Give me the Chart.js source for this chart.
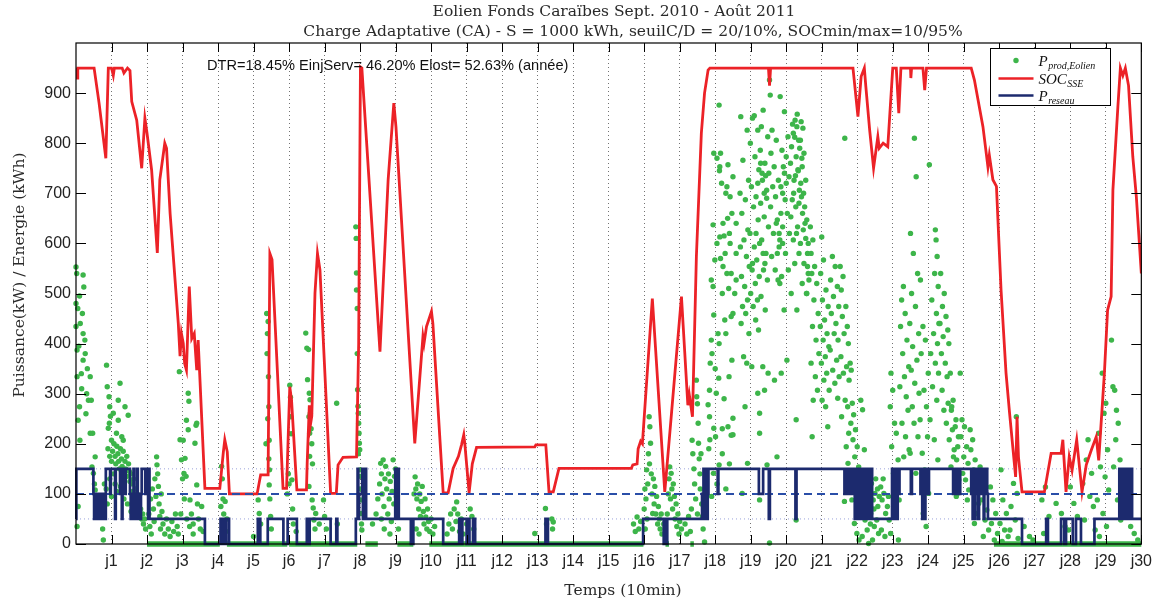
<!DOCTYPE html>
<html lang="fr">
<head>
<meta charset="UTF-8">
<title>Eolien Fonds Caraïbes - Charge Adaptative</title>
<script src="https://cdn.jsdelivr.net/npm/chart.js"></script>
<style>
  body { margin: 0; background: #fff; }
  #wrap { width: 1160px; height: 603px; }
</style>
</head>
<body>
<div id="wrap"><canvas id="chart" width="1160" height="603"></canvas></div>
<script>
// texts
const titleLines = [
  "Eolien Fonds Caraïbes Sept. 2010 - Août 2011",
  "Charge Adaptative (CA) - S = 1000 kWh, seuilC/D = 20/10%, SOCmin/max=10/95%"
];
const yTitle = "Puissance(kW) / Energie (kWh)";
const xTitle = "Temps (10min)";
const statsText = "DTR=18.45% EinjServ= 46.20% Elost= 52.63% (année)";

// axes (x in days, 144 samples of 10 min per day)
const dayTicks = [1,2,3,4,5,6,7,8,9,10,11,12,13,14,15,16,17,18,19,20,21,22,23,24,25,26,27,28,29,30];
const yTicks = [0,100,200,300,400,500,600,700,800,900];
const serviceLevel = 100;          // dashed line
const powerSteps = [50, 150];      // dotted reference lines

// SOC_SSE [day, kWh]
const socPoints = [
  [0,950],[0.03,930],[0.05,950],[0.51,950],[0.65,880],[0.84,770],[0.91,950],[1.0,950],[1.05,935],[1.08,950],
  [1.3,950],[1.35,940],[1.45,950],[1.52,945],[1.57,883],[1.71,846],[1.85,750],[1.94,850],[2.0,820],[2.13,746],
  [2.29,581],[2.36,727],[2.5,800],[2.55,790],[2.65,660],[2.88,441],[2.93,375],[2.97,420],[3.02,401],[3.06,360],
  [3.11,347],[3.19,514],[3.26,410],[3.33,420],[3.4,347],[3.44,407],[3.63,111],[4.05,111],[4.15,184],[4.19,208],
  [4.26,184],[4.32,100],[5.1,100],[5.2,138],[5.41,138],[5.46,580],[5.52,568],[5.83,111],[5.93,111],[6.02,314],
  [6.07,287],[6.22,108],[6.49,108],[6.51,161],[6.57,277],[6.6,237],[6.64,255],[6.73,501],[6.8,580],[6.87,547],
  [7.17,101],[7.33,101],[7.38,158],[7.52,173],[7.9,174],[7.96,400],[8.01,952],[8.05,950],[8.18,806],[8.56,384],
  [8.79,727],[8.95,880],[9.01,833],[9.54,201],[9.77,414],[9.8,400],[9.87,434],[10.01,464],[10.05,440],[10.34,102],
  [10.48,102],[10.62,151],[10.77,175],[10.86,199],[10.92,218],[10.95,200],[11.07,102],[11.16,160],[11.28,193],[12.92,194],
  [12.95,198],[13.23,198],[13.32,104],[13.44,104],[13.6,151],[15.64,151],[15.68,158],[15.8,160],[15.83,190],[15.9,205],
  [15.95,200],[16.23,490],[16.58,104],[16.77,261],[17.05,494],[17.23,277],[17.27,298],[17.36,254],[17.47,573],[17.61,820],
  [17.7,900],[17.8,946],[17.85,950],[19.5,950],[19.53,915],[19.56,950],[21.88,950],[22.02,853],[22.11,933],[22.2,950],
  [22.24,915],[22.35,826],[22.46,750],[22.58,813],[22.62,790],[22.73,800],[22.86,793],[23.0,950],[23.1,950],[23.17,860],
  [23.23,950],[23.5,950],[23.51,930],[23.53,950],[23.85,950],[23.9,906],[23.95,950],[25.21,950],[25.3,926],[25.54,833],
  [25.68,753],[25.72,776],[25.82,727],[25.92,714],[26.05,507],[26.19,341],[26.29,261],[26.46,134],[26.5,254],[26.54,174],
  [26.64,104],[27.27,104],[27.46,181],[27.74,181],[27.79,208],[27.88,104],[27.97,174],[28.05,147],[28.18,208],[28.33,104],
  [28.45,158],[28.59,187],[28.73,214],[28.8,167],[28.96,341],[29.05,467],[29.15,494],[29.2,707],[29.34,873],[29.41,950],
  [29.48,935],[29.55,950],[29.64,915],[29.76,773],[29.86,693],[30.0,540]
];

// P_reseau [day from, kW] (stairs)
const gridPoints = [
  [0,50],[0.01,150],[0.49,100],[0.51,50],[0.54,100],[0.57,50],[0.6,100],[0.63,50],[0.66,100],[0.69,50],
  [0.72,100],[0.75,50],[0.78,100],[0.81,50],[0.84,150],[0.96,100],[0.98,150],[1.1,50],[1.12,150],[1.24,100],
  [1.26,150],[1.29,50],[1.31,150],[1.38,100],[1.4,150],[1.52,100],[1.54,50],[1.57,100],[1.6,50],[1.62,150],
  [1.64,100],[1.67,50],[1.7,100],[1.72,150],[1.74,50],[1.77,100],[1.8,50],[1.83,100],[1.85,150],[1.95,100],
  [1.97,150],[2.03,50],[2.05,150],[2.07,50],[3.63,0],[4.07,50],[4.09,0],[4.11,50],[4.13,0],[4.15,50],
  [4.17,0],[4.19,50],[4.21,0],[4.23,50],[4.31,0],[5.12,50],[5.14,0],[5.16,50],[5.19,0],[5.4,50],
  [5.84,0],[5.96,50],[6.22,0],[6.5,50],[6.52,0],[6.54,50],[6.56,0],[6.58,50],[7.17,0],[7.33,50],
  [7.36,0],[7.88,50],[7.93,150],[7.95,50],[7.97,100],[8.06,150],[8.08,50],[8.1,150],[8.12,100],[8.14,150],
  [8.17,50],[8.99,150],[9.01,100],[9.03,150],[9.05,50],[9.07,150],[9.09,50],[9.43,0],[9.5,50],[10.34,0],
  [10.79,50],[10.81,0],[10.83,50],[10.86,0],[10.88,50],[11.0,0],[11.03,50],[11.08,0],[11.18,50],[11.24,0],
  [13.22,50],[13.29,0],[15.97,50],[16.55,0],[16.57,50],[16.59,0],[16.61,50],[16.63,0],[16.65,50],[17.63,100],
  [17.65,50],[17.67,150],[17.69,50],[17.71,100],[17.73,50],[17.75,150],[17.77,50],[17.79,100],[17.81,150],[18.07,100],
  [18.09,150],[19.23,100],[19.35,150],[19.51,50],[19.54,150],[20.26,50],[20.29,150],[21.64,100],[21.66,150],[21.7,100],
  [21.72,150],[21.76,100],[21.78,150],[21.82,100],[21.85,150],[21.88,100],[21.9,150],[21.93,50],[21.95,150],[21.97,100],
  [21.99,50],[22.01,150],[22.03,50],[22.05,150],[22.07,100],[22.09,50],[22.11,150],[22.13,50],[22.15,150],[22.17,50],
  [22.19,150],[22.21,50],[22.23,150],[22.25,100],[22.27,50],[22.29,150],[22.31,50],[22.34,150],[22.37,50],[22.39,150],
  [22.42,50],[22.98,150],[23.0,50],[23.02,100],[23.04,150],[23.06,50],[23.08,150],[23.1,100],[23.12,50],[23.14,150],
  [23.16,100],[23.19,150],[23.51,100],[23.54,150],[23.78,100],[23.8,150],[23.83,50],[23.86,150],[23.88,100],[23.9,50],
  [23.92,150],[23.95,100],[23.97,150],[24.0,100],[24.02,150],[24.7,100],[24.72,150],[24.75,100],[24.78,150],[24.81,100],
  [24.84,150],[24.87,100],[24.9,150],[25.21,100],[25.23,150],[25.25,50],[25.27,150],[25.29,100],[25.31,50],[25.33,150],
  [25.36,100],[25.38,150],[25.41,50],[25.43,150],[25.46,100],[25.48,150],[25.51,100],[25.53,150],[25.56,50],[25.58,150],
  [25.61,100],[25.63,150],[25.66,100],[25.68,50],[26.64,0],[27.32,50],[27.37,0],[27.74,50],[27.83,0],[27.88,50],
  [28.07,0],[28.16,50],[28.3,0],[28.68,50],[29.38,150],[29.4,50],[29.42,100],[29.44,150],[29.46,50],[29.48,150],
  [29.5,100],[29.52,50],[29.54,150],[29.56,100],[29.58,150],[29.6,50],[29.62,150],[29.64,100],[29.66,50],[29.68,150],
  [29.7,100],[29.72,150],[29.74,50],[30,50]
];

// P_prod,Eolien [day, kW], samples above zero
const prodPoints = [
  // j0 - j1
  [0.0,553],[0.02,540],[0.2,537],[0.22,513],[0.0,480],[0.05,470],[0.0,434],[0.2,420],[0.25,407],[0.03,387],
  [0.2,367],[0.03,334],[0.15,340],[0.4,334],[0.3,300],[0.35,287],[0.43,287],[0.1,274],[0.06,247],[0.4,221],
  [0.47,221],[0.11,207],[0.54,174],[0.45,154],[0.49,141],[0.52,120],[0.54,108],[0.06,75],[0.03,35],[0.6,85],
  [0.7,55],[0.75,30],[0.77,8],[0.65,95],[0.12,440],[0.08,395],[0.16,310],[0.28,260],[0.32,350],[0.1,495],
  [0.18,460],[0.26,380],
  // j1 - j2
  [0.86,357],[0.88,314],[0.93,294],[0.95,274],[0.97,255],[0.94,241],[0.91,231],[1.0,207],[1.19,287],[1.24,321],
  [1.19,247],[1.29,214],[1.33,207],[1.38,274],[1.47,257],[1.14,221],[1.05,261],
  [0.9,190],[0.95,175],[1.0,165],[1.03,185],[1.07,200],[1.1,175],[1.12,160],[1.15,195],[1.18,180],[1.2,165],
  [1.22,150],[1.25,190],[1.28,170],[1.3,155],[1.33,185],[1.35,140],[1.38,165],[1.4,150],[1.43,175],[1.45,135],
  [1.48,160],[1.5,145],[1.52,125],[1.55,140],[1.58,120],[1.6,105],[1.62,130],[1.65,95],[1.68,110],[1.7,85],
  [1.72,100],[1.75,75],[1.78,90],[1.8,60],[1.82,70],[1.85,50],[1.88,60],[1.9,40],[1.93,50],[1.96,30],
  [1.1,120],[1.05,140],[1.15,105],[1.25,115],[1.35,90],[0.95,130],[0.85,110],[0.88,80],[0.8,120],[1.0,95],
  [1.45,80],[1.55,65],[1.65,55],
  // j2 - j4
  [2.05,60],[2.08,35],[2.1,90],[2.12,20],[2.15,110],[2.18,70],[2.2,45],[2.22,130],[2.25,95],[2.27,174],
  [2.28,158],[2.3,140],[2.32,115],[2.34,80],[2.36,55],[2.38,30],[2.4,100],[2.42,65],[2.45,40],[2.5,20],
  [2.55,50],[2.6,30],[2.65,15],[2.7,45],[2.75,25],[2.8,60],[2.85,35],[2.88,20],[2.91,344],[2.93,208],
  [2.97,168],[3.0,130],[3.02,207],[3.04,141],[3.07,171],[3.1,135],[3.11,247],[3.16,228],[3.16,301],[3.18,285],
  [3.21,88],[3.25,60],[3.3,40],[3.35,201],[3.38,237],[3.4,241],[3.4,118],[3.42,80],[3.45,50],[3.5,30],
  [3.54,75],[3.58,25],[3.05,90],[2.95,60],[3.12,50],[3.2,35],[3.3,20],
  [4.08,75],[4.1,155],[4.12,130],[4.14,90],[4.16,60],[4.18,40],[4.2,85],[4.22,25],[4.25,50],[5.0,15],
  // j5 - j8
  [5.13,88],[5.16,61],[5.2,40],[5.35,200],[5.37,460],[5.39,420],[5.41,444],[5.42,334],[5.43,274],[5.44,207],
  [5.45,148],[5.44,118],[5.46,90],[5.48,55],[5.5,30],[5.38,380],[5.4,250],[5.43,170],
  [5.95,100],[5.98,140],[6.0,120],[6.02,317],[6.04,293],[6.05,254],[6.06,220],[6.08,128],[6.1,70],[6.12,40],
  [6.2,25],[6.47,421],[6.5,391],[6.52,328],[6.55,388],[6.57,301],[6.59,288],[6.56,254],[6.58,221],[6.58,175],
  [6.6,261],[6.62,230],[6.64,200],[6.66,160],[6.56,115],[6.65,88],[6.68,72],[6.7,48],[6.73,30],[6.75,61],
  [6.85,40],[6.97,88],[7.0,55],[7.05,30],[7.34,281],[7.36,40],
  [7.88,633],[7.89,610],[7.9,541],[7.9,507],[7.92,470],[7.93,308],[7.94,275],[7.95,261],[7.96,241],[7.97,221],
  [7.98,201],[7.99,188],[8.0,148],[8.01,135],[8.02,88],[8.03,61],[8.05,28],[7.92,380],[7.95,180],[8.0,110],
  [8.04,40],
  // j8 - j11
  [8.35,40],[8.45,60],[8.5,90],[8.55,120],[8.58,161],[8.6,140],[8.62,100],[8.65,168],[8.67,75],[8.7,130],
  [8.72,155],[8.75,110],[8.78,60],[8.8,140],[8.82,90],[8.85,125],[8.88,45],[8.9,105],[8.93,168],[8.95,80],
  [8.97,135],[9.0,150],[9.02,95],[9.03,120],[9.05,60],[9.08,30],[8.68,30],[8.84,20],[8.6,50],
  [9.52,100],[9.55,134],[9.57,110],[9.6,90],[9.62,120],[9.65,70],[9.68,100],[9.7,55],[9.72,85],[9.75,115],
  [9.78,65],[9.8,40],[9.83,90],[9.85,54],[9.88,30],[9.9,70],[9.93,45],[9.96,25],[10.0,50],[10.05,20],
  [10.1,35],[9.58,30],[9.66,20],
  [10.45,20],[10.5,40],[10.55,60],[10.6,30],[10.65,70],[10.7,45],[10.72,84],[10.75,60],[10.8,25],[10.85,50],
  [10.9,20],[11.0,40],[11.1,70],[11.15,55],[11.2,30],[12.92,21],
  // j13 - j18
  [13.22,71],[13.25,40],[13.4,50],[13.42,30],[13.44,44],
  [15.7,40],[15.75,25],[15.8,54],[15.85,30],[15.9,45],[16.0,70],[16.02,110],[16.05,90],[16.07,148],[16.1,120],
  [16.12,180],[16.14,254],[16.16,234],[16.18,201],[16.15,160],[16.2,140],[16.22,100],[16.24,61],[16.26,130],[16.28,80],
  [16.3,115],[16.33,60],[16.35,95],[16.38,40],[16.4,75],[16.43,50],[16.45,30],[16.48,60],[16.5,20],[16.55,40],
  [16.03,30],[16.08,50],
  [16.65,60],[16.68,100],[16.7,130],[16.72,154],[16.74,90],[16.76,141],[16.78,110],[16.8,70],[16.82,120],[16.85,95],
  [16.87,50],[16.9,80],[16.92,35],[16.95,60],[16.98,20],[17.0,45],[17.05,30],[17.15,40],[17.2,20],[17.25,55],
  [17.3,25],[17.35,207],[17.37,180],[17.4,150],[17.42,120],[17.45,90],[17.47,327],[17.48,294],[17.5,280],[17.52,241],
  [17.53,201],[17.55,170],[17.57,140],[17.58,110],[17.6,180],[17.62,80],[17.64,55],[17.66,30],[17.7,4],[17.33,70],
  [17.5,60],
  // j18 - j19
  [18.11,876],[18.15,780],[17.96,780],[18.13,753],[18.36,757],[18.5,733],[18.33,713],[18.42,693],[18.47,660],[18.59,640],
  [17.94,637],[18.22,640],[18.25,615],[18.13,613],[18.42,600],[18.59,580],[17.99,567],[18.22,554],[18.33,540],[17.89,527],
  [18.59,527],[17.94,514],[18.55,500],[18.5,460],[17.96,457],[18.45,454],[18.27,447],[18.08,420],[17.89,407],[18.11,400],
  [17.91,380],[18.47,367],[17.86,361],[18.39,334],[18.1,331],[17.84,307],[18.03,301],[17.8,278],[17.84,254],[18.36,234],
  [18.5,218],[17.96,231],[18.01,214],[18.11,158],[17.95,141],[17.85,208],[18.2,180],[18.3,110],[17.9,95],[18.05,120],
  [18.4,160],[18.25,290],[17.82,190],[18.0,350],[18.2,500],[18.3,420],[18.45,217],[18.5,251],[18.2,230],
  [18.05,770],[18.12,745],[18.18,720],[18.3,700],[18.35,650],[18.4,620],[18.28,580],[18.15,570],[18.45,540],[18.38,510],
  [18.05,600],
  [18.72,853],[18.9,826],[18.78,766],[18.94,726],[18.7,700],[18.85,687],[18.75,660],[18.92,627],[18.81,607],[18.71,593],
  [18.88,574],[18.96,554],[18.74,534],[18.83,514],[18.91,487],[18.77,474],[18.86,460],[18.73,440],[18.95,420],[18.8,374],
  [18.89,361],[18.84,274],[18.76,101],[18.91,161],
  // j19 - j20
  [19.05,850],[19.2,826],[18.99,800],[19.12,773],[19.23,747],[19.02,713],[19.15,693],[19.08,673],[19.21,647],[18.98,620],
  [19.1,593],[19.17,567],[19.04,547],[19.24,534],[19.13,520],[19.0,500],[19.19,487],[19.07,474],[19.14,447],[19.22,427],
  [19.03,354],[19.2,301],[19.25,221],[19.25,88],[19.25,261],
  [19.1,855],[19.28,760],[19.32,740],[19.42,735],[19.38,700],[19.45,690],[19.2,720],[19.15,620],[19.25,600],[19.35,580],
  [19.4,560],[19.05,560],
  [19.35,866],[19.3,833],[19.48,813],[19.27,786],[19.4,760],[19.51,740],[19.33,726],[19.45,706],[19.28,680],[19.38,653],
  [19.5,633],[19.31,607],[19.43,580],[19.36,547],[19.47,527],[19.29,494],[19.41,467],[19.34,354],[19.49,341],[19.39,307],
  [19.46,158],[19.53,2],
  [19.53,926],[19.55,896],[19.6,826],[19.72,806],[19.57,780],[19.66,753],[19.78,726],[19.62,713],[19.7,693],[19.56,673],
  [19.75,647],[19.64,620],[19.8,593],[19.59,574],[19.69,547],[19.77,527],[19.67,327],[19.74,174],
  [19.72,640],[19.8,620],[19.85,660],[19.9,700],[19.95,740],[20.0,720],[19.9,600],[19.75,580],[19.82,520],
  // j20 - j21
  [19.83,893],[19.95,863],[20.05,813],[19.88,786],[20.0,773],[19.92,753],[20.08,733],[19.85,713],[19.97,687],[20.03,660],
  [19.9,633],[20.09,620],[19.82,607],[19.98,580],[20.06,547],[19.87,534],[19.94,467],[20.02,367],[19.86,341],
  [20.25,846],[20.3,833],[20.2,820],[20.35,806],[20.15,793],[20.28,773],[20.12,760],[20.33,747],[20.22,726],[20.37,706],
  [20.17,687],[20.27,673],[20.13,653],[20.32,633],[20.2,607],[20.36,580],[20.24,560],[20.14,500],[20.3,467],[20.28,248],
  [20.28,48],
  [20.18,838],[20.24,812],[20.31,858],[20.38,790],[20.44,770],[20.34,745],[20.26,735],[20.41,720],[20.49,700],[20.21,700],
  [20.36,680],[20.46,660],[20.53,640],[20.29,620],[20.4,600],[20.55,610],[20.6,580],[20.5,560],[20.62,540],[20.45,520],
  [20.58,500],
  [20.42,843],[20.47,830],[20.4,806],[20.5,780],[20.45,753],[20.55,726],[20.43,693],[20.52,673],[20.58,647],[20.48,627],
  [20.62,600],[20.6,554],[20.64,527],[20.57,500],
  [20.68,633],[20.75,607],[20.7,580],[20.8,554],[20.72,540],[20.86,520],[20.78,487],[20.9,460],[20.74,434],[20.84,407],
  [20.92,380],[20.7,361],[20.82,334],[20.88,307],[20.76,287],[20.73,214],
  // j21 - j22
  [21.0,613],[21.05,567],[20.97,540],[21.12,507],[21.02,487],[21.18,474],[21.08,447],[20.96,434],[21.15,420],[21.04,407],
  [21.2,394],[21.1,374],[20.99,361],[21.14,341],[21.06,327],[21.21,307],[21.01,287],[21.11,274],[21.17,234],
  [21.3,574],[21.38,554],[21.25,527],[21.44,514],[21.33,494],[21.48,474],[21.27,460],[21.4,440],[21.35,420],[21.46,407],
  [21.24,387],[21.42,367],[21.31,347],[21.49,334],[21.37,321],[21.45,291],
  [21.65,810],[21.52,554],[21.6,534],[21.55,507],[21.68,474],[21.58,454],[21.72,434],[21.63,420],[21.75,400],[21.54,374],
  [21.7,354],[21.61,341],[21.77,327],[21.66,287],[21.73,274],[21.56,254],[21.76,221],[21.69,194],[21.74,161],[21.64,85],
  [21.8,361],[21.83,347],[21.86,281],[21.9,258],[21.82,241],[21.95,228],[21.88,208],[22.0,194],[21.93,174],[22.04,154],
  [21.97,134],[22.02,114],[21.85,88],[22.06,61],[21.92,41],[21.99,21],[22.05,8],
  // j22 - j23
  [22.1,287],[22.15,268],[22.2,188],[22.25,141],[22.12,121],[22.3,101],[22.18,81],[22.33,61],[22.22,48],[22.28,28],
  [22.14,15],[22.32,1],
  [22.4,121],[22.5,101],[22.45,88],[22.58,75],[22.38,61],[22.55,48],[22.48,35],[22.6,21],[22.43,8],[22.52,130],
  [22.62,95],[22.37,40],[22.47,70],[22.57,110],
  [22.66,114],[22.75,101],[22.7,88],[22.85,75],[22.8,61],[22.9,48],[22.68,28],[22.78,15],[22.73,130],[22.88,95],
  [22.95,341],[23.0,307],[22.93,274],[23.05,241],[23.1,221],[22.97,194],[23.15,168],[23.02,141],[23.12,114],[23.18,88],
  [23.07,61],[22.94,21],[23.16,8],
  // j23 - j24
  [23.3,514],[23.25,487],[23.35,460],[23.22,434],[23.4,407],[23.28,380],[23.45,354],[23.33,334],[23.2,314],[23.38,294],
  [23.43,267],[23.26,241],[23.36,214],[23.46,188],[23.31,174],
  [23.61,810],[23.66,733],[23.5,620],[23.58,580],[23.7,540],[23.53,500],[23.64,474],[23.48,440],[23.73,420],[23.56,394],
  [23.68,367],[23.52,347],[23.62,321],[23.74,301],[23.55,274],[23.6,241],[23.71,214],[23.49,181],[23.65,141],
  [24.03,757],[23.78,527],[23.85,434],[23.92,407],[23.8,380],[24.0,341],[23.88,307],[23.95,274],[23.77,248],[23.98,214],
  [23.83,181],[23.9,148],[24.01,101],[23.86,61],[23.94,35],
  // j24 - j25
  [24.2,627],[24.22,607],[24.25,574],[24.18,540],[24.28,514],[24.1,487],[24.23,460],[24.3,440],[24.15,420],[24.26,400],
  [24.07,380],[24.2,361],[24.29,341],[24.12,314],[24.24,287],[24.05,248],[24.17,208],[24.27,168],
  [24.35,540],[24.45,500],[24.4,474],[24.5,454],[24.33,440],[24.55,427],[24.42,414],[24.58,400],[24.37,380],[24.48,361],
  [24.53,334],[24.39,307],[24.56,281],[24.44,267],[24.51,241],[24.59,208],
  [24.62,341],[24.7,287],[24.65,267],[24.78,248],[24.68,228],[24.85,214],[24.73,188],[24.8,168],[24.64,154],[24.87,141],
  [24.75,121],[24.82,101],[24.66,274],[24.76,234],[24.83,194],[24.71,174],[24.86,128],[24.79,95],
  // j25 - j27
  [24.9,341],[24.95,248],[25.02,234],[24.92,214],[25.08,194],[25.0,174],[25.12,161],[24.97,141],[25.05,128],[25.14,108],
  [25.1,88],
  [25.18,228],[25.25,208],[25.2,188],[25.32,168],[25.28,148],[25.38,128],[25.22,108],[25.42,81],[25.35,61],[25.3,41],
  [25.46,154],[25.52,134],[25.58,108],[25.5,88],[25.65,68],[25.6,48],[25.7,28],[25.55,15],
  [25.75,114],[25.82,88],[25.9,61],[25.78,41],[25.95,21],[25.86,8],
  [26.05,148],[26.1,88],[26.2,61],[26.02,41],[26.15,28],[26.25,15],[26.08,5],
  [26.48,254],[26.4,121],[26.5,101],[26.33,75],[26.45,48],[26.3,28],[26.53,11],
  [26.7,35],[26.85,15],[26.95,8],
  // j27 - j30
  [27.3,114],[27.2,88],[27.4,55],[27.25,21],[27.6,81],[27.75,61],[27.85,35],
  [28.0,114],[28.1,81],[28.2,55],[27.95,28],
  [28.5,208],[28.45,168],[28.6,141],[28.35,121],[28.55,95],[28.65,75],[28.4,48],[28.7,28],
  [28.9,341],[29.0,281],[28.95,261],[28.8,221],[29.05,188],[28.85,154],[28.98,134],[29.08,108],[28.76,88],[28.92,61],
  [29.02,35],[28.82,15],
  [29.16,407],[29.2,314],[29.25,307],[29.3,267],[29.35,241],[29.28,208],[29.4,168],[29.22,154],[29.45,121],[29.33,88],
  [29.42,48],
  [29.5,95],[29.6,61],[29.7,35],[29.8,21],[29.9,8]
];

// stretches where P_prod,Eolien stays at 0 kW [day from, day to]
const prodZeroSpans = [
  [2.0,4.05],[4.25,5.95],[6.0,7.92],[8.15,8.5],[9.05,9.5],[9.95,15.98],
  [16.6,16.7],[17.3,17.4],[25.85,30]
];

const green = '#3db54a';
const red = '#ec2227';
const navy = '#1c2a6e';

const toXY = arr => arr.map(p => ({ x: p[0], y: p[1] }));

const zeroData = [];
prodZeroSpans.forEach(s => {
  zeroData.push({ x: s[0], y: 0 }, { x: s[1], y: 0 }, { x: s[1], y: null });
});

const refData = [];
powerSteps.forEach(v => {
  refData.push({ x: 0, y: v }, { x: 30, y: v }, { x: 30, y: null });
});

// frame, inward ticks, titles, stats text and legend box
const decor = {
  id: 'decor',
  afterDraw(chart) {
    const { ctx, chartArea: a, scales: { x, y } } = chart;
    ctx.save();

    ctx.strokeStyle = '#000';
    ctx.lineWidth = 1.2;
    ctx.strokeRect(a.left, a.top, a.right - a.left, a.bottom - a.top);
    ctx.beginPath();
    dayTicks.forEach(d => {
      const px = Math.round(x.getPixelForValue(d)) + 0.5;
      ctx.moveTo(px, a.bottom); ctx.lineTo(px, a.bottom - 9);
      ctx.moveTo(px, a.top); ctx.lineTo(px, a.top + 9);
    });
    yTicks.forEach(v => {
      const py = Math.round(y.getPixelForValue(v)) + 0.5;
      ctx.moveTo(a.left, py); ctx.lineTo(a.left + 10, py);
      ctx.moveTo(a.right, py); ctx.lineTo(a.right - 10, py);
    });
    ctx.lineWidth = 1;
    ctx.stroke();

    ctx.fillStyle = '#2a2a2a';
    ctx.textAlign = 'center';
    ctx.textBaseline = 'middle';
    ctx.font = '15.5px "DejaVu Serif"';
    ctx.fillText(titleLines[0], 614, 12);
    ctx.fillText(titleLines[1], 633, 32);
    ctx.fillText(xTitle, 623, 591);
    ctx.save();
    ctx.translate(20, 275);
    ctx.rotate(-Math.PI / 2);
    ctx.fillText(yTitle, 0, 0);
    ctx.restore();

    ctx.textAlign = 'left';
    ctx.font = '14.6px "Liberation Sans"';
    ctx.fillStyle = '#111';
    ctx.fillText(statsText, 207, 66);

    // legend
    const lx = 990.5, ly = 48.5, lw = 120, lh = 57;
    ctx.fillStyle = '#fff';
    ctx.fillRect(lx, ly, lw, lh);
    ctx.strokeStyle = '#000';
    ctx.lineWidth = 1;
    ctx.strokeRect(lx, ly, lw, lh);
    const rows = [
      { main: 'P', sub: 'prod,Eolien', y: ly + 12 },
      { main: 'SOC', sub: 'SSE', y: ly + 30 },
      { main: 'P', sub: 'reseau', y: ly + 47 }
    ];
    ctx.fillStyle = green;
    ctx.beginPath();
    ctx.arc(lx + 25.5, rows[0].y, 2.7, 0, Math.PI * 2);
    ctx.fill();
    ctx.lineWidth = 2.7;
    ctx.strokeStyle = red;
    ctx.beginPath(); ctx.moveTo(lx + 8, rows[1].y); ctx.lineTo(lx + 43, rows[1].y); ctx.stroke();
    ctx.strokeStyle = navy;
    ctx.beginPath(); ctx.moveTo(lx + 8, rows[2].y); ctx.lineTo(lx + 43, rows[2].y); ctx.stroke();
    ctx.fillStyle = '#111';
    ctx.textBaseline = 'alphabetic';
    rows.forEach(r => {
      ctx.font = 'italic 15px "Liberation Serif"';
      ctx.fillText(r.main, lx + 48, r.y + 5);
      const w = ctx.measureText(r.main).width;
      ctx.font = 'italic 10px "Liberation Serif"';
      ctx.fillText(r.sub, lx + 48 + w + 0.5, r.y + 8);
    });

    ctx.restore();
  }
};

new Chart(document.getElementById('chart'), {
  type: 'line',
  data: {
    datasets: [
      {
        label: 'P_prod,Eolien',
        type: 'scatter',
        data: toXY(prodPoints),
        showLine: false,
        pointRadius: 2.7,
        pointBorderWidth: 0,
        pointBackgroundColor: green,
        clip: 6,
        order: 4
      },
      {
        label: 'SOC_SSE',
        data: toXY(socPoints),
        borderColor: red,
        borderWidth: 2.8,
        pointRadius: 0,
        tension: 0,
        order: 2
      },
      {
        label: 'P_reseau',
        data: toXY(gridPoints),
        stepped: true,
        borderColor: navy,
        borderWidth: 2.7,
        pointRadius: 0,
        clip: 3,
        order: 1
      },
      {
        label: 'prod zero',
        data: zeroData,
        borderColor: green,
        borderWidth: 5.4,
        pointRadius: 0,
        spanGaps: false,
        clip: 6,
        order: 4.5
      },
      {
        label: 'service',
        data: [{ x: 0, y: serviceLevel }, { x: 30, y: serviceLevel }],
        borderColor: '#2a4ea8',
        borderWidth: 2,
        borderDash: [8, 5],
        pointRadius: 0,
        order: 1.5
      },
      {
        label: 'steps',
        data: refData,
        borderColor: '#9aa3dc',
        borderWidth: 1,
        borderDash: [1, 3],
        pointRadius: 0,
        spanGaps: false,
        order: 6
      }
    ]
  },
  options: {
    responsive: false,
    animation: false,
    events: [],
    layout: { padding: { top: 43, right: 18, left: 0, bottom: 0 } },
    plugins: {
      legend: { display: false },
      title: { display: false },
      tooltip: { enabled: false }
    },
    scales: {
      x: {
        type: 'linear',
        min: 0,
        max: 30,
        afterFit: s => { s.height = 59; },
        border: { display: false, dash: [1, 3] },
        grid: {
          drawTicks: false,
          lineWidth: 1,
          color: c => (c.tick && c.tick.value > 0 && c.tick.value < 30) ? 'rgba(0,0,0,0.55)' : 'rgba(0,0,0,0)'
        },
        ticks: {
          stepSize: 1,
          autoSkip: false,
          maxRotation: 0,
          padding: 8,
          color: '#222',
          font: { family: 'Liberation Sans', size: 16 },
          callback: v => (v >= 1 ? 'j' + v : '')
        }
      },
      y: {
        min: 0,
        max: 1000,
        afterFit: s => { s.width = 76; },
        border: { display: false },
        grid: { display: false, drawTicks: false },
        ticks: {
          stepSize: 100,
          padding: 5,
          color: '#222',
          font: { family: 'Liberation Sans', size: 16 },
          callback: v => (v <= 900 ? v : '')
        }
      }
    }
  },
  plugins: [decor]
});
</script>
</body>
</html>
